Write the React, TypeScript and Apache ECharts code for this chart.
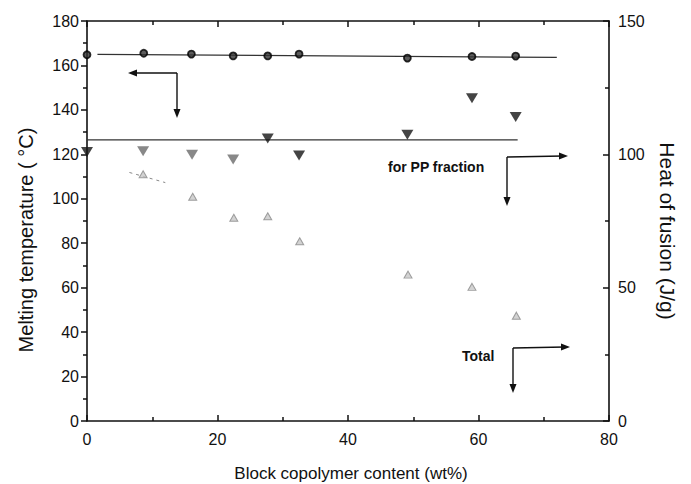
import React, { useEffect, useRef } from "react";
import * as echarts from "echarts";

// Melting temperature (°C), left axis
const meltX = [0, 8.7, 16, 22.4, 27.7, 32.5, 49.1, 59, 65.7];
const meltT = [164.8, 165.5, 165.1, 164.3, 164.3, 165.1, 163.3, 164, 164.2];
const meltFitX = [1.6, 72];
const meltFitT = [165, 163.6];

// Heat of fusion for PP fraction (J/g), right axis
const ppX = [0, 8.6, 16.1, 22.4, 27.7, 32.5, 49.1, 59, 65.7];
const ppH = [100.9, 101.2, 99.8, 98.1, 105.9, 99.6, 107.3, 121, 114];
const ppShade = ["dark", "gray", "gray", "gray", "dark", "dark", "dark", "dark", "dark"];
const ppFitX = [0, 66];
const ppFitH = [105.4, 105.4];

// Total heat of fusion (J/g), right axis
const totX = [8.6, 16.2, 22.5, 27.7, 32.6, 49.2, 59, 65.8];
const totH = [92.5, 84.1, 76.2, 76.8, 67.4, 54.9, 50.3, 39.5];
const totDashX = [6.5, 12];
const totDashH = [93.2, 89.4];

const xTicks = { min: 0, max: 80, interval: 20 };
const yLeftTicks = { min: 0, max: 180, interval: 20 };
const yRightTicks = { min: 0, max: 150, interval: 50 };

const FONT = "'Liberation Sans', Arial, sans-serif";

function arrowHead(x: number, y: number, dir: string) {
  const L = 9, W = 3.5;
  let pts: number[][];
  if (dir === "left") pts = [[x, y], [x + L, y - W], [x + L, y + W]];
  else if (dir === "right") pts = [[x, y], [x - L, y - W], [x - L, y + W]];
  else pts = [[x, y], [x - W, y - L], [x + W, y - L]];
  return { type: "polygon", shape: { points: pts }, style: { fill: "#111" }, z: 20 };
}
function seg(x1: number, y1: number, x2: number, y2: number) {
  return { type: "line", shape: { x1, y1, x2, y2 }, style: { stroke: "#111", lineWidth: 1.4 }, z: 20 };
}

export default function App() {
  const ref = useRef<HTMLDivElement>(null);
  useEffect(() => {
    if (!ref.current) return;
    const chart = echarts.init(ref.current, null, { renderer: "svg" });
    const axisLine = { show: true, onZero: false, lineStyle: { color: "#111", width: 1.6 } };
    const label = { fontSize: 16, color: "#111", fontFamily: FONT };
    const xAxisBase = {
      type: "value",
      ...xTicks,
      axisLine,
      splitLine: { show: false },
      axisTick: { show: true, inside: true, length: 6, lineStyle: { color: "#111", width: 1.5 } },
      minorTick: { show: true, splitNumber: 2, length: 4, lineStyle: { color: "#111", width: 1.5 } },
    };
    chart.setOption({
      animation: false,
      backgroundColor: "#fff",
      grid: { left: 87, right: 82, top: 21, bottom: 63 },
      xAxis: [
        { ...xAxisBase, position: "bottom", axisLabel: { ...label, margin: 10 } },
        { ...xAxisBase, position: "top", axisLabel: { show: false } },
      ],
      yAxis: [
        {
          type: "value",
          position: "left",
          ...yLeftTicks,
          axisLine,
          splitLine: { show: false },
          axisTick: { show: true, inside: false, length: 6, lineStyle: { color: "#111", width: 1.5 } },
          minorTick: { show: true, splitNumber: 2, length: 4, lineStyle: { color: "#111", width: 1.5 } },
          axisLabel: { ...label, margin: 8 },
        },
        {
          type: "value",
          position: "right",
          ...yRightTicks,
          axisLine,
          splitLine: { show: false },
          axisTick: { show: true, inside: true, length: 6, lineStyle: { color: "#111", width: 1.5 } },
          minorTick: { show: true, splitNumber: 2, length: 4, lineStyle: { color: "#111", width: 1.5 } },
          axisLabel: { ...label, margin: 9 },
        },
      ],
      series: [
        {
          type: "line",
          xAxisIndex: 0,
          yAxisIndex: 0,
          data: meltFitX.map((x, i) => [x, meltFitT[i]]),
          symbol: "none",
          lineStyle: { color: "#333", width: 1.3 },
          z: 2,
        },
        {
          type: "scatter",
          xAxisIndex: 0,
          yAxisIndex: 0,
          data: meltX.map((x, i) => [x, meltT[i]]),
          symbol: "circle",
          symbolSize: 7,
          itemStyle: { color: "#333", borderColor: "#000", borderWidth: 1.8 },
          z: 5,
        },
        {
          type: "line",
          xAxisIndex: 0,
          yAxisIndex: 1,
          data: ppFitX.map((x, i) => [x, ppFitH[i]]),
          symbol: "none",
          lineStyle: { color: "#333", width: 1.3 },
          z: 2,
        },
        {
          type: "scatter",
          xAxisIndex: 0,
          yAxisIndex: 1,
          data: ppX.map((x, i) => ({
            value: [x, ppH[i]],
            itemStyle: { color: ppShade[i] === "gray" ? "#6a6a6a" : "#151515" },
          })),
          symbol: "triangle",
          symbolRotate: 180,
          symbolSize: [12, 10],
          z: 5,
        },
        {
          type: "line",
          xAxisIndex: 0,
          yAxisIndex: 1,
          data: totDashX.map((x, i) => [x, totDashH[i]]),
          symbol: "none",
          lineStyle: { color: "#888", width: 1, type: [3, 4] },
          z: 2,
        },
        {
          type: "scatter",
          xAxisIndex: 0,
          yAxisIndex: 1,
          data: totX.map((x, i) => [x, totH[i]]),
          symbol: "triangle",
          symbolSize: [8, 7],
          itemStyle: { color: "#c8c8c8", borderColor: "#8a8a8a", borderWidth: 1 },
          z: 5,
        },
      ],
      graphic: [
        {
          type: "text",
          x: 26,
          y: 240,
          rotation: Math.PI / 2,
          style: {
            text: "Melting temperature ( °C)",
            fontSize: 20,
            fontFamily: FONT,
            fill: "#111",
            align: "center",
            verticalAlign: "middle",
          },
        },
        {
          type: "text",
          x: 667,
          y: 231,
          rotation: -Math.PI / 2,
          style: {
            text: "Heat of fusion (J/g)",
            fontSize: 21,
            fontFamily: FONT,
            fill: "#111",
            align: "center",
            verticalAlign: "middle",
          },
        },
        {
          type: "text",
          x: 351,
          y: 473,
          style: {
            text: "Block copolymer content (wt%)",
            fontSize: 17,
            fontFamily: FONT,
            fill: "#111",
            align: "center",
            verticalAlign: "middle",
          },
        },
        {
          type: "text",
          x: 388,
          y: 167,
          style: {
            text: "for PP fraction",
            fontSize: 14,
            fontWeight: "bold",
            fontFamily: FONT,
            fill: "#111",
            align: "left",
            verticalAlign: "middle",
          },
        },
        {
          type: "text",
          x: 462,
          y: 356,
          style: {
            text: "Total",
            fontSize: 14,
            fontWeight: "bold",
            fontFamily: FONT,
            fill: "#111",
            align: "left",
            verticalAlign: "middle",
          },
        },
        seg(177, 73, 132, 73),
        arrowHead(128, 73, "left"),
        seg(177, 73, 177, 112),
        arrowHead(177, 118, "down"),
        seg(507, 157, 563, 156),
        arrowHead(568, 156, "right"),
        seg(507, 157, 507, 200),
        arrowHead(507, 206, "down"),
        seg(513, 348, 565, 347),
        arrowHead(570, 347, "right"),
        seg(513, 348, 513, 387),
        arrowHead(513, 393, "down"),
      ],
    });
    return () => chart.dispose();
  }, []);
  return <div ref={ref} style={{ width: 691, height: 484, position: "absolute", left: 0, top: 0 }} />;
}
